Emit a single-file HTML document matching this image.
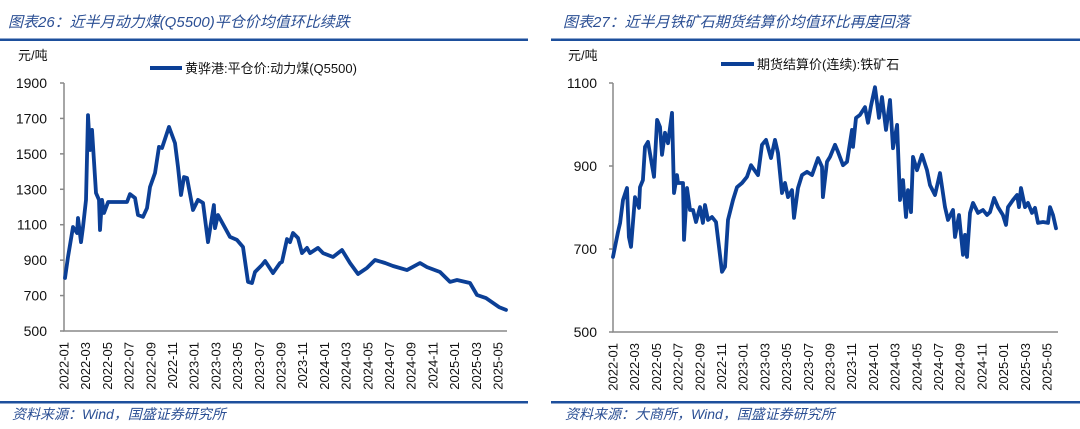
<!DOCTYPE html>
<html><head><meta charset="utf-8"><style>
html,body{margin:0;padding:0;background:#fff;}
svg{display:block;font-family:"Liberation Sans","Noto Sans CJK SC",sans-serif;}
.ttl{font-style:italic;fill:#2b4f94;font-size:15px;}
.src{font-style:italic;fill:#2b4f94;font-size:14px;}
.tk{font-size:14px;fill:#111;}
.xl{font-size:13px;fill:#111;}
.lg{font-size:13px;fill:#111;}
</style></head><body>
<svg id="c" width="1080" height="429" viewBox="0 0 1080 429">
<text class="ttl" x="8" y="27">图表26：近半月动力煤(Q5500)平仓价均值环比续跌</text>
<rect x="0" y="38.5" width="528" height="2.5" fill="#1d4f9c"/>
<text class="ttl" x="563" y="27">图表27：近半月铁矿石期货结算价均值环比再度回落</text>
<rect x="551" y="38.5" width="529" height="2.5" fill="#1d4f9c"/>
<rect x="0" y="401" width="528" height="2.5" fill="#1d4f9c"/>
<rect x="551" y="401" width="529" height="2.5" fill="#1d4f9c"/>
<text class="src" x="12" y="419">资料来源：Wind，国盛证券研究所</text>
<text class="src" x="565" y="419">资料来源：大商所，Wind，国盛证券研究所</text>
<text class="lg" x="18" y="60">元/吨</text>
<text class="lg" x="568" y="60">元/吨</text>
<line x1="150" y1="68" x2="182" y2="68" stroke="#0b3f96" stroke-width="4"/>
<text class="lg" x="185" y="73">黄骅港:平仓价:动力煤(Q5500)</text>
<line x1="721" y1="64" x2="754" y2="64" stroke="#0b3f96" stroke-width="4"/>
<text class="lg" x="757" y="69">期货结算价(连续):铁矿石</text>
<g id="left"></g>
<g id="right"></g>
</svg>
<script>
const xTickLabels = ["2022-01","2022-03","2022-05","2022-07","2022-09","2022-11","2023-01","2023-03","2023-05","2023-07","2023-09","2023-11","2024-01","2024-03","2024-05","2024-07","2024-09","2024-11","2025-01","2025-03","2025-05"];
const coalYTicks = [500,700,900,1100,1300,1500,1700,1900];
const oreYTicks = [500,700,900,1100];
// month offset from 2022-01
const coalMonths = [0.09,0.37,0.83,1.2,1.29,1.57,1.75,2.03,2.21,2.4,2.58,2.95,3.23,3.32,3.5,3.69,4.06,5.81,6.08,6.54,6.82,7.28,7.65,7.93,8.39,8.76,9.03,9.68,10.23,10.51,10.78,11.06,11.34,11.89,12.35,12.81,13.27,13.82,13.92,14.19,15.3,15.94,16.5,16.96,17.33,17.6,18.25,18.53,19.26,19.91,20.09,20.55,20.83,21.11,21.57,21.94,22.4,22.67,23.41,23.87,24.79,25.62,26.36,27.1,27.93,28.66,29.59,30.32,31.61,32.81,33.46,34.65,35.58,36.22,37.42,38.06,38.89,40.09,40.74];
const coalValues = [799,918,1087,1053,1138,1002,1087,1240,1719,1522,1635,1279,1240,1070,1240,1166,1228,1228,1273,1251,1155,1144,1194,1313,1392,1539,1533,1652,1561,1426,1268,1369,1364,1183,1240,1223,1002,1211,1081,1155,1031,1014,974,777,771,833,873,895,827,884,890,1019,1002,1053,1025,940,969,940,969,940,918,957,884,822,856,901,884,867,844,884,861,833,777,788,771,703,686,635,619];
const oreMonths = [0,.18,.46,.65,.92,1.29,1.47,1.66,2.03,2.4,2.49,2.76,2.95,3.23,3.78,4.06,4.33,4.52,4.79,5.07,5.44,5.62,5.9,5.99,6.45,6.54,6.82,7.1,7.37,7.65,8.02,8.29,8.48,8.76,9.12,9.49,10.05,10.32,10.6,11.06,11.43,11.89,12.35,12.72,12.9,13.36,13.73,14.1,14.56,14.93,15.21,15.58,15.85,16.13,16.5,16.68,17.05,17.42,17.88,18.34,18.89,19.26,19.35,19.72,20,20.46,20.74,21.2,21.57,22.03,22.12,22.4,22.76,23.23,23.5,23.78,24.15,24.52,24.79,25.16,25.53,25.81,26.18,26.45,26.73,27,27.19,27.47,27.65,28.02,28.48,28.94,29.22,29.68,30.14,30.6,30.88,31.34,31.52,31.89,32.26,32.44,32.63,32.9,33.18,33.64,34.1,34.47,34.75,35.12,35.48,35.94,36.22,36.41,36.87,37.24,37.42,37.6,37.97,38.25,38.62,38.89,39.17,39.63,40.09,40.28,40.55,40.83];
const oreValues = [681,705,741,763,818,847,729,705,825,799,849,866,946,958,874,1011,994,927,980,955,1028,835,878,859,859,722,847,794,794,765,801,763,806,770,777,765,645,657,770,818,849,859,874,902,895,878,951,963,919,963,931,835,859,825,842,775,847,878,886,878,919,898,825,910,922,951,934,902,910,987,946,1016,1023,1042,1004,1045,1090,1016,1066,987,1059,943,999,818,866,777,842,789,922,890,927,890,854,830,883,801,770,794,729,782,686,734,681,787,811,787,794,782,789,823,801,782,758,801,818,830,801,847,801,811,787,799,763,765,763,801,782,750];

const NS="http://www.w3.org/2000/svg";
function mk(tag, attrs, parent){const e=document.createElementNS(NS,tag);for(const k in attrs)e.setAttribute(k,attrs[k]);parent.appendChild(e);return e;}

function drawChart(g, cfg, months, values, yTicks, prefix){
  const x = m => cfg.x0 + m*cfg.mw;
  const y = v => cfg.yb - (v-cfg.vmin)/(cfg.vmax-cfg.vmin)*(cfg.yb-cfg.yt);
  const ax = mk('path',{d:`M${cfg.x0},${y(cfg.vmax)}V${cfg.yb}H${cfg.xe}`,fill:'none',stroke:'#888','stroke-width':1.5},g);
  
  
  yTicks.forEach(v=>{
    const t = mk('line',{x1:cfg.x0-4,x2:cfg.x0,y1:y(v),y2:y(v),stroke:'#888','stroke-width':1.5},g);
    
    
    const l = mk('text',{x:cfg.lx,y:y(v)+5,'text-anchor':'end',class:'tk'},g);
    l.textContent = v;
    
    
  });
  xTickLabels.forEach((s,i)=>{
    const xx = x(i*2)+4.5;
    const l = mk('text',{x:0,y:0,'text-anchor':'end',class:'xl',transform:`translate(${xx},${cfg.yb+11}) rotate(-90)`},g);
    l.textContent = s;
    
    
  });
  const d = months.map((m,i)=>(i?'L':'M')+x(m).toFixed(1)+','+y(values[i]).toFixed(1)).join('');
  const p = mk('path',{d:d,fill:'none',stroke:'#0b3f96','stroke-width':3.8,'stroke-linejoin':'round','stroke-linecap':'round'},g);
  
  
}
drawChart(document.getElementById('left'),{x0:64,mw:10.85,xe:507,yb:331,yt:83,vmin:500,vmax:1900,lx:47},coalMonths,coalValues,coalYTicks,'coal');
drawChart(document.getElementById('right'),{x0:613,mw:10.85,xe:1058,yb:332,yt:83,vmin:500,vmax:1100,lx:597},oreMonths,oreValues,oreYTicks,'ore');
</script>
</body></html>
